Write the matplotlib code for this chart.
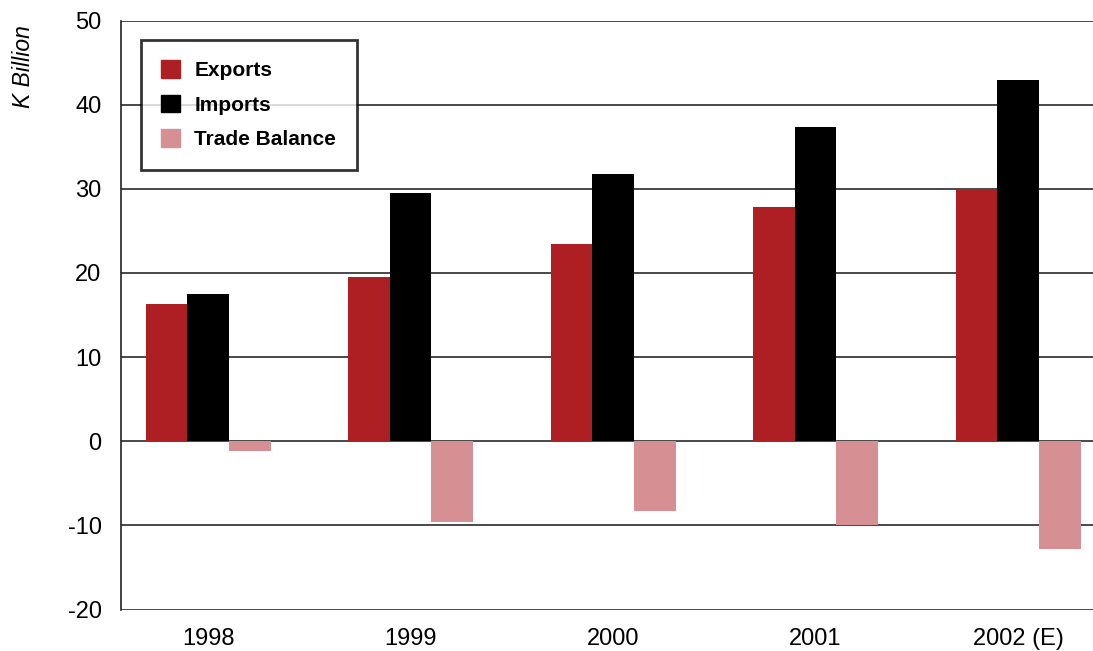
import numpy as np
import matplotlib
matplotlib.use("Agg")
import matplotlib.pyplot as plt
from matplotlib.patches import Patch

plt.rcParams["font.family"] = ["Liberation Sans", "DejaVu Sans"]
plt.rcParams["axes.unicode_minus"] = False

years = ["1998", "1999", "2000", "2001", "2002 (E)"]
exports = [16.3, 19.5, 23.4, 27.8, 29.9]
imports = [17.5, 29.5, 31.7, 37.4, 42.9]
balance = [-1.15, -9.6, -8.3, -10.0, -12.8]

c_exp = "#AE1F24"
c_imp = "#000000"
c_bal = "#D68F93"

fig = plt.figure(figsize=(10.93, 6.51), dpi=100)
ax = fig.add_axes([121 / 1093, 41.5 / 651, 1 - 121 / 1093, 589 / 651])

x = np.arange(len(years))
w = 0.206
ax.bar(x - w, exports, w, color=c_exp, zorder=3)
ax.bar(x, imports, w, color=c_imp, zorder=3)
ax.bar(x + w, balance, w, color=c_bal, zorder=3)

ax.set_xlim(-0.43, 4.37)
ax.set_ylim(-20, 50)
ax.set_yticks(range(-20, 51, 10))
ax.set_xticks(x)
ax.set_xticklabels(years)
ax.tick_params(axis="both", length=0, labelsize=17)
ax.tick_params(axis="y", pad=14)
ax.tick_params(axis="x", pad=13)

for v in range(-20, 51, 10):
    ax.axhline(v, color="#3a3a3a", lw=1.3, zorder=2)

for s in ["top", "right", "bottom"]:
    ax.spines[s].set_visible(False)
ax.spines["left"].set_color("#222222")
ax.spines["left"].set_linewidth(1.2)

ax.set_ylabel("K Billion", fontsize=16.5, style="italic")
ax.yaxis.set_label_coords(-0.088, 0.921)

handles = [Patch(color=c_exp, label="Exports"),
           Patch(color=c_imp, label="Imports"),
           Patch(color=c_bal, label="Trade Balance")]
leg = ax.legend(handles=handles, loc="upper left", bbox_to_anchor=(0.0205, 0.967),
                frameon=True, fancybox=False, prop={"weight": "bold", "size": 15},
                handlelength=0.91, handleheight=0.91, handletextpad=0.67,
                labelspacing=0.7, borderpad=0.98, borderaxespad=0)
leg.get_frame().set_edgecolor("black")
leg.get_frame().set_linewidth(2)
leg.set_zorder(5)

plt.savefig("out.png", dpi=100)
